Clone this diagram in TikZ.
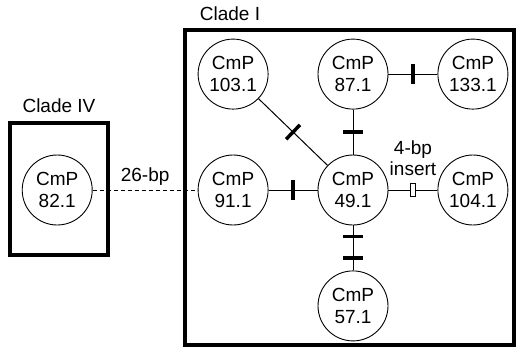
\documentclass[tikz,border=0pt]{standalone}
\usepackage{fontspec}
\setmainfont{Liberation Sans}
\usepackage{tikz}
\usetikzlibrary{positioning}

\begin{document}
\begin{tikzpicture}[x=1pt, y=-1pt,
  hap/.style={circle, draw, line width=0.9pt, minimum size=70pt, inner sep=0pt, align=center, font=\fontsize{19}{22.5}\selectfont},
  lbl/.style={font=\fontsize{19}{21.5}\selectfont, inner sep=1pt, align=center},
  cladebox/.style={draw, line width=3.5pt},
  link/.style={line width=1pt},
  bar/.style={rectangle, fill=black, minimum width=3.5pt, minimum height=20pt, inner sep=0pt, sloped},
  insbox/.style={rectangle, draw, fill=white, line width=0.6pt, minimum width=5pt, minimum height=13pt, inner sep=0pt, sloped}]
  \useasboundingbox (0,0) rectangle (516,348);
  % Clade I
  \node[hap] (c49) at (353,190) {CmP\\49.1};
  \node[hap, above=45pt of c49] (c87) {CmP\\87.1};
  \node[hap, below=45pt of c49] (c57) {CmP\\57.1};
  \node[hap, left=49pt of c49] (c91) {CmP\\91.1};
  \node[hap, right=49pt of c49] (c104) {CmP\\104.1};
  \node[hap, above=45pt of c91] (c103) {CmP\\103.1};
  \node[hap, right=49pt of c87] (c133) {CmP\\133.1};
  \draw[cladebox] (185,30) rectangle (514,345);
  \node[lbl] (cladeI) at (230,14) {Clade I};
  % Clade IV
  \node[hap, left=105pt of c91] (c82) {CmP\\82.1};
  \draw[cladebox] (10,123) rectangle (108,255);
  \node[lbl] (cladeIV) at (59,106) {Clade IV};
  % Links
  \draw[link] (c103) -- node[bar] {} (c49);
  \draw[link] (c87) -- node[bar] {} (c49);
  \draw[link] (c87) -- node[bar] {} (c133);
  \draw[link] (c91) -- node[bar] {} (c49);
  \draw[link] (c49) -- node[bar, pos=0.25] {} node[bar, pos=0.72] {} (c57);
  \draw[link] (c49) -- node[insbox] (ins) {} (c104);
  \node[lbl, above=6pt of ins] (insLbl) {4-bp\\insert};
  \draw[link, dash pattern=on 4pt off 3pt] (c82) -- node[lbl, above=3pt] (gap) {26-bp} (c91);
\end{tikzpicture}
\end{document}
